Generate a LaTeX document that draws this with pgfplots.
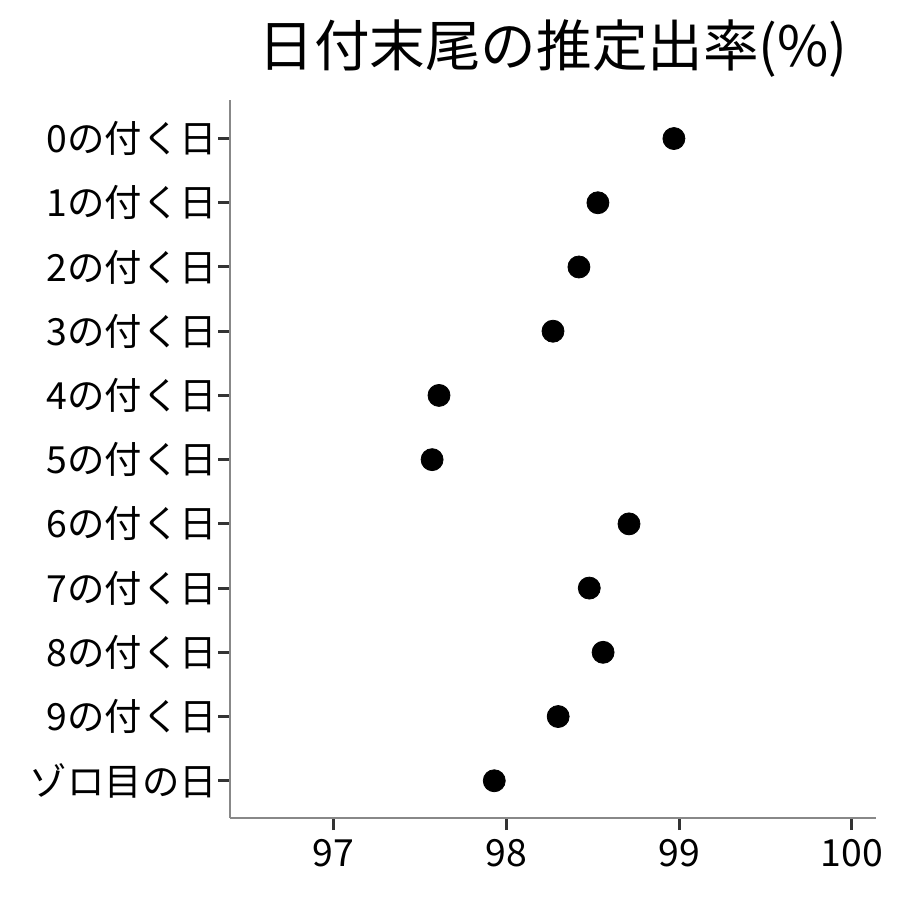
\documentclass[border=0pt]{standalone}
\usepackage{fontspec}
\setmainfont{Noto Sans CJK JP}
\usepackage{pgfplots}
\pgfplotsset{compat=1.18}

\definecolor{axisgrey}{HTML}{888888}
\definecolor{tickgrey}{HTML}{333333}

\pgfplotstableread{
y x
0 98.97
1 98.53
2 98.42
3 98.27
4 97.61
5 97.57
6 98.71
7 98.48
8 98.56
9 98.30
10 97.93
}\rates

\begin{document}
\begin{tikzpicture}
\path[use as bounding box] (0,0) rectangle (450pt,450pt);
\begin{axis}[
  at={(115pt,41pt)}, anchor=south west,
  scale only axis, width=323pt, height=359pt,
  xmin=96.4, xmax=100.14,
  ymin=-0.6, ymax=10.58, y dir=reverse,
  axis x line*=bottom, axis y line*=left,
  axis line style={axisgrey, line width=0.7pt, -},
  xtick={97,98,99,100},
  ytick={0,...,10},
  yticklabels={0の付く日,1の付く日,2の付く日,3の付く日,4の付く日,5の付く日,6の付く日,7の付く日,8の付く日,9の付く日,ゾロ目の日},
  tick align=outside, major tick length=6pt,
  tick style={tickgrey, line width=1.5pt},
  tick label style={font=\fontsize{18.7pt}{20pt}\selectfont, black},
  /pgf/number format/assume math mode=true,
  xticklabel style={yshift=-1pt},
  yticklabel style={xshift=3pt},
  title={日付末尾の推定出率(\%)},
  title style={font=\fontsize{27.8pt}{30pt}\selectfont, yshift=2pt},
  clip=false,
]
\addplot[only marks, mark=*, mark size=5.5pt, black] table[x=x, y=y] {\rates};
\end{axis}
\end{tikzpicture}
\end{document}
